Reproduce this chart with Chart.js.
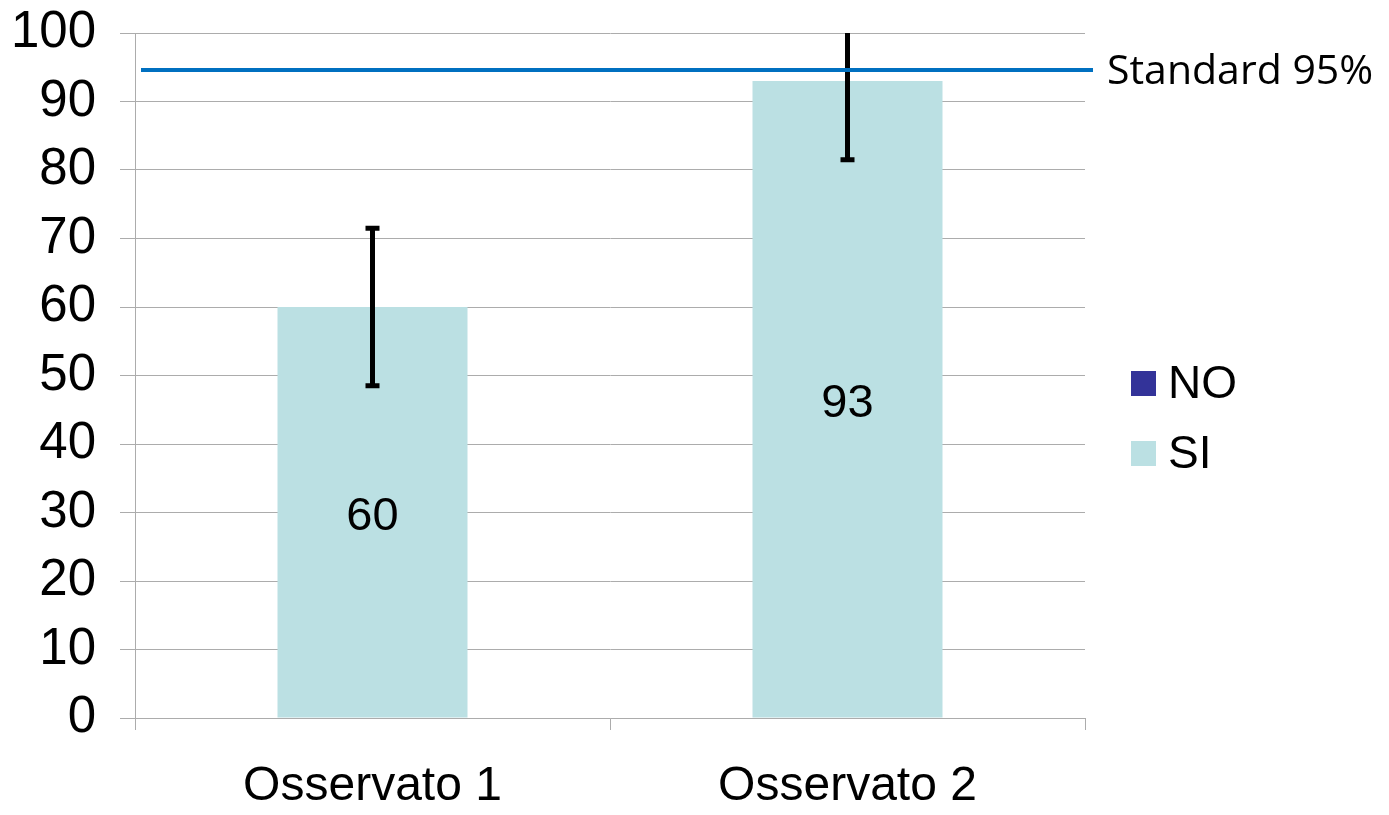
<!DOCTYPE html>
<html>
<head>
<meta charset="utf-8">
<script src="https://cdn.jsdelivr.net/npm/chart.js@4/dist/chart.umd.min.js"></script>
<style>
  html, body { margin: 0; padding: 0; background: #fff; }
  #wrap { width: 1389px; height: 815px; }
</style>
</head>
<body>
<div id="wrap"><canvas id="chart" width="1389" height="815"></canvas></div>
<script>
// data
const categories = ['Osservato 1', 'Osservato 2'];
const siValues = [60, 93];
const noValues = [0, 0];
const errorMargins = [11.5, 11.5];
const standardValue = 94.6;
const standardLabel = 'Standard 95%';
const yTicks = [0, 10, 20, 30, 40, 50, 60, 70, 80, 90, 100];

const SI_COLOR = '#BBE0E3';
const NO_COLOR = '#333399';
const LINE_COLOR = '#0070C0';
const GRID_COLOR = '#ACACAC';
const FONT = '"Liberation Sans", Arial, sans-serif';

// error bars, value labels, standard line and legend
const extras = {
  id: 'extras',
  afterDatasetsDraw(chart) {
    const ctx = chart.ctx;
    const y = chart.scales.y;
    const area = chart.chartArea;
    const bars = chart.getDatasetMeta(1).data;

    // error bars (clipped at the top of the plot)
    ctx.save();
    ctx.beginPath();
    ctx.rect(0, area.top, chart.width, chart.height - area.top);
    ctx.clip();
    ctx.strokeStyle = '#000';
    ctx.lineWidth = 5;
    bars.forEach((bar, i) => {
      const yHi = y.getPixelForValue(siValues[i] + errorMargins[i]);
      const yLo = y.getPixelForValue(siValues[i] - errorMargins[i]);
      ctx.beginPath();
      ctx.moveTo(bar.x, yHi);
      ctx.lineTo(bar.x, yLo);
      ctx.moveTo(bar.x - 7, yHi);
      ctx.lineTo(bar.x + 7, yHi);
      ctx.moveTo(bar.x - 7, yLo);
      ctx.lineTo(bar.x + 7, yLo);
      ctx.stroke();
    });
    ctx.restore();

    // value labels in the middle of the bars
    ctx.save();
    ctx.fillStyle = '#000';
    ctx.font = '47px ' + FONT;
    ctx.textAlign = 'center';
    ctx.textBaseline = 'middle';
    bars.forEach((bar, i) => {
      ctx.fillText(String(siValues[i]), bar.x, (bar.y + bar.base) / 2 + 5);
    });
    ctx.restore();

    // standard line
    const ys = y.getPixelForValue(standardValue);
    ctx.save();
    ctx.strokeStyle = LINE_COLOR;
    ctx.lineWidth = 4;
    ctx.beginPath();
    ctx.moveTo(area.left + 6, ys);
    ctx.lineTo(area.right + 8, ys);
    ctx.stroke();
    ctx.fillStyle = '#000';
    ctx.font = '41px "Open Sans", sans-serif';
    ctx.textAlign = 'left';
    ctx.textBaseline = 'middle';
    ctx.fillText(standardLabel, area.right + 22, ys + 2);
    ctx.restore();

    // legend
    ctx.save();
    const items = [
      { label: chart.data.datasets[0].label, color: NO_COLOR, cy: 383 },
      { label: chart.data.datasets[1].label, color: SI_COLOR, cy: 453 }
    ];
    ctx.font = '46px ' + FONT;
    ctx.textBaseline = 'middle';
    items.forEach(it => {
      ctx.fillStyle = it.color;
      ctx.fillRect(area.right + 46, it.cy - 12, 25, 25);
      ctx.fillStyle = '#000';
      ctx.fillText(it.label, area.right + 83, it.cy + 2);
    });
    ctx.restore();
  }
};

new Chart(document.getElementById('chart'), {
  type: 'bar',
  data: {
    labels: categories,
    datasets: [
      { label: 'NO', data: noValues, backgroundColor: NO_COLOR, borderWidth: 0,
        barPercentage: 0.4, categoryPercentage: 1 },
      { label: 'SI', data: siValues, backgroundColor: SI_COLOR, borderWidth: 0,
        barPercentage: 0.4, categoryPercentage: 1 }
    ]
  },
  options: {
    responsive: false,
    animation: false,
    layout: { padding: { left: 0, right: 304, top: 33, bottom: 0 } },
    plugins: {
      legend: { display: false },
      tooltip: { enabled: false }
    },
    scales: {
      x: {
        stacked: true,
        grid: { drawOnChartArea: false, drawTicks: true, tickLength: 12, color: GRID_COLOR, offset: true },
        border: { color: GRID_COLOR },
        ticks: { color: '#000', font: { family: FONT, size: 48 }, padding: 28, maxRotation: 0 },
        afterFit(scale) { scale.height = 97; }
      },
      y: {
        stacked: true,
        min: 0,
        max: 100,
        afterBuildTicks(scale) { scale.ticks = yTicks.map(v => ({ value: v })); },
        grid: { color: GRID_COLOR, tickLength: 15, lineWidth: 1 },
        border: { color: GRID_COLOR },
        ticks: { color: '#000', font: { family: FONT, size: 51 }, padding: 24 },
        afterFit(scale) {
          scale.width = 135;
          scale.paddingTop = 0;
          scale.paddingBottom = 0;
        }
      }
    }
  },
  plugins: [extras]
});
</script>
</body>
</html>
